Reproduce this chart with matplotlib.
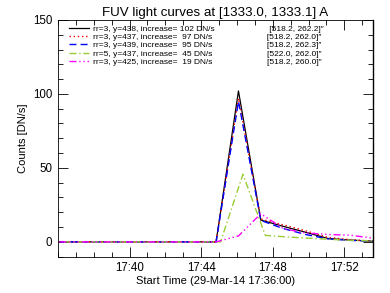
import matplotlib
matplotlib.use("Agg")
import matplotlib.pyplot as plt
from matplotlib.ticker import MultipleLocator, FixedLocator, FuncFormatter

plt.rcParams['font.family'] = ['Liberation Sans', 'DejaVu Sans']

# seconds since 17:36:00
t_main = [5, 80, 155, 230, 305, 380, 455, 530, 605, 680, 755, 830, 905, 980, 1055]
t_green = [20, 95, 170, 245, 320, 395, 470, 545, 620, 695, 770, 845, 920, 995, 1070]

s_438 = [0, 0, 0, 0, 0, 0, 0, 0, 102, 14.7, 10.5, 6.5, 2.3, 1.2, 0.5]
s_437 = [0, 0, 0, 0, 0, 0, 0, 0, 97, 15.5, 11.5, 7.5, 3.0, 1.5, 0.5]
s_439 = [0, 0, 0, 0, 0, 0, 0, 0, 95, 14.5, 9.0, 5.0, 2.0, 1.0, 0.5]
s_r5 = [0, 0, 0, 0, 0, 0, 0, 0, 45.7, 4.4, 3.3, 2.4, 1.6, 1.0, 0.6]
s_425 = [0, 0, 0, 0, 0, 0, 0, 0, 4, 19, 9, 6, 5, 4.5, 2.5]

major_ticks = [240, 480, 720, 960]

pad = ' ' * 23
labels = [
    'rr=3, y=438, increase= 102 DN/s' + pad + '[518.2, 262.2]\u2033',
    'rr=3, y=437, increase=  97 DN/s' + pad + '[518.2, 262.0]\u2033',
    'rr=3, y=439, increase=  95 DN/s' + pad + '[518.2, 262.3]\u2033',
    'rr=5, y=437, increase=  45 DN/s' + pad + '[522.0, 262.0]\u2033',
    'rr=3, y=425, increase=  19 DN/s' + pad + '[518.2, 260.0]\u2033',
]

fig = plt.figure(figsize=(3.9, 2.93), dpi=100)
ax = fig.add_axes([0.1487, 0.124, 0.8077, 0.808])

ax.plot(t_main, s_438, color='black', lw=0.9, ls='-', label=labels[0])
ax.plot(t_main, s_437, color='red', lw=1.0, ls=(0, (1, 2)), label=labels[1])
ax.plot(t_main, s_439, color='blue', lw=1.0, ls=(0, (5, 3)), label=labels[2])
ax.plot(t_green, s_r5, color='#9acd32', lw=1.0, ls=(0, (5, 2, 1, 2)), label=labels[3])
ax.plot(t_main, s_425, color='magenta', lw=1.0, ls=(0, (5, 2, 1, 2, 1, 2, 1, 2)), label=labels[4])

ax.set_xlim(0, 1056)
ax.set_ylim(-10, 150)
ax.xaxis.set_major_locator(FixedLocator(major_ticks))
ax.xaxis.set_minor_locator(MultipleLocator(60))
ax.yaxis.set_major_locator(MultipleLocator(50))
ax.yaxis.set_minor_locator(MultipleLocator(10))

def fmt(v, pos):
    tot = int(round(v)) + 17 * 3600 + 36 * 60
    return '%02d:%02d' % (tot // 3600, (tot % 3600) // 60)

ax.xaxis.set_major_formatter(FuncFormatter(fmt))
ax.tick_params(which='both', direction='in', top=True, right=True, labelsize=8.3, pad=4)
ax.tick_params(which='major', length=7, width=0.6)
ax.tick_params(which='minor', length=3.5, width=0.6)
for sp in ax.spines.values():
    sp.set_linewidth(0.6)
ax.spines['right'].set_linewidth(1.0)

ax.set_title('FUV light curves at [1333.0, 1333.1] A', fontsize=9.6, pad=3)
ax.set_xlabel('Start Time (29-Mar-14 17:36:00)', fontsize=8, labelpad=1)
ax.set_ylabel('Counts [DN/s]', fontsize=8, labelpad=4)

ax.legend(loc='upper left', bbox_to_anchor=(0.028, 0.99), frameon=False, fontsize=6.0,
          handlelength=2.4, handletextpad=0.5, labelspacing=0.06, borderaxespad=0.0,
          borderpad=0.3)

fig.savefig('out.png', dpi=100)
